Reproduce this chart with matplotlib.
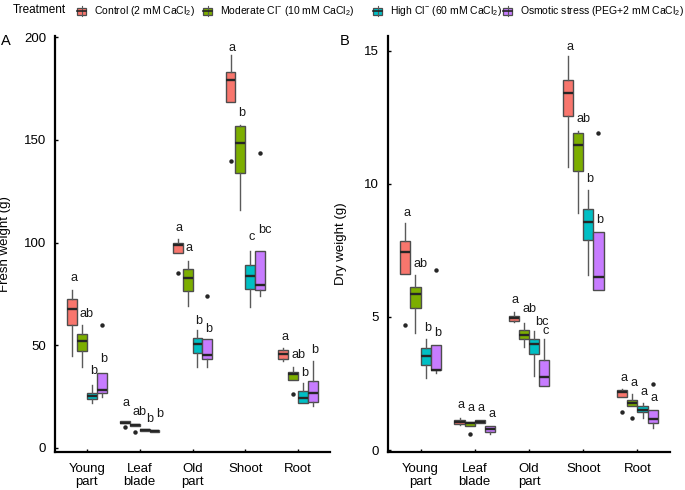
# fresh & dry weight boxplots by tissue and treatment
import matplotlib
matplotlib.use('Agg')
import matplotlib.pyplot as plt
from matplotlib.patches import Rectangle
from matplotlib.lines import Line2D

plt.rcParams['font.family'] = ['Liberation Sans', 'DejaVu Sans']
plt.rcParams['mathtext.fontset'] = 'custom'
plt.rcParams['mathtext.rm'] = 'Liberation Sans'
plt.rcParams['mathtext.it'] = 'Liberation Sans:italic'
plt.rcParams['mathtext.bf'] = 'Liberation Sans:bold'

##########################
tissues = ['Young\npart', 'Leaf\nblade', 'Old\npart', 'Shoot', 'Root']
treatments = [r'Control (2 mM CaCl$_2$)', r'Moderate Cl$^{-}$ (10 mM CaCl$_2$)',
              r'High Cl$^{-}$ (60 mM CaCl$_2$)', r'Osmotic stress (PEG+2 mM CaCl$_2$)']
colors = ['#F8766D', '#7CAE00', '#00BFC4', '#C77CFF']

# panel A - fresh weight (g); rows = tissue, cols = treatment
fw_lo = [[44.7, 39.5, 21.8, 24.7], [12.1, 10.5, 8.5, 7.9], [94.7, 68.9, 39.2, 39.2],
         [168.5, 115.8, 68.5, 74.2], [42.4, 33.1, 21.8, 20.6]]
fw_q1 = [[60.0, 47.1, 23.7, 26.9], [12.1, 10.5, 8.5, 7.9], [94.7, 76.3, 46.0, 43.1],
         [168.5, 134.0, 77.4, 76.9], [43.1, 33.1, 21.8, 22.6]]
fw_med = [[67.7, 51.9, 25.3, 28.2], [12.4, 11.3, 8.9, 8.4], [98.8, 82.6, 50.5, 45.2],
          [179.1, 148.3, 83.5, 79.5], [45.6, 35.8, 24.2, 26.6]]
fw_q3 = [[72.6, 55.6, 26.9, 36.3], [12.9, 11.9, 9.2, 8.9], [100.0, 87.1, 53.7, 52.9],
         [182.8, 156.8, 89.0, 96.0], [47.9, 36.8, 27.7, 32.6]]
fw_hi = [[77.0, 59.7, 30.6, 36.3], [12.9, 11.9, 9.2, 8.9], [101.5, 90.8, 57.3, 52.9],
         [191.2, 157.0, 96.0, 96.0], [48.7, 39.2, 31.8, 42.4]]
fw_out = [(0, 3, 59.7), (1, 0, 10.0), (1, 1, 7.6), (2, 0, 85.3), (2, 3, 74.2),
          (3, 0, 139.8), (3, 3, 143.7), (4, 1, 26.3)]
fw_let = [['a', 'ab', 'b', 'b'], ['a', 'ab', 'b', 'b'], ['a', 'a', 'b', 'b'],
          ['a', 'b', 'c', 'bc'], ['a', 'ab', 'b', 'b']]
fw_let_y = [[82.7, 65.3, 37.6, 43.5], [21.8, 17.3, 14.0, 16.5], [106.9, 97.2, 61.6, 58.1],
            [194.5, 163.2, 102.8, 106.1], [54.0, 45.2, 36.6, 47.6]]

# panel B - dry weight (g)
dw_lo = [[6.63, 4.39, 2.71, 2.90], [0.93, 0.92, 1.01, 0.62], [4.81, 3.89, 2.80, 2.40],
         [10.63, 8.90, 6.59, 6.03], [1.99, 1.65, 1.22, 0.81]]
dw_q1 = [[6.63, 5.35, 3.21, 2.99], [0.98, 0.92, 1.01, 0.68], [4.85, 4.19, 3.61, 2.40],
         [12.55, 10.48, 7.88, 6.03], [1.99, 1.65, 1.43, 1.02]]
dw_med = [[7.43, 5.85, 3.54, 3.01], [1.07, 1.01, 1.06, 0.80], [4.95, 4.33, 4.00, 2.76],
          [13.41, 11.46, 8.56, 6.49], [2.18, 1.78, 1.52, 1.16]]
dw_q3 = [[7.84, 6.13, 3.82, 3.94], [1.14, 1.06, 1.11, 0.92], [5.02, 4.50, 4.19, 3.38],
         [13.90, 11.93, 9.06, 8.18], [2.24, 1.89, 1.65, 1.52]]
dw_hi = [[8.53, 6.59, 4.19, 3.94], [1.21, 1.06, 1.11, 0.92], [5.19, 4.78, 4.48, 4.17],
         [14.81, 12.00, 9.78, 8.18], [2.28, 2.09, 1.78, 1.52]]
dw_out = [(0, 0, 4.69), (0, 3, 6.78), (1, 1, 0.62), (3, 3, 11.9),
          (4, 0, 1.41), (4, 1, 1.22), (4, 3, 2.49)]
dw_let = [['a', 'ab', 'b', 'b'], ['a', 'a', 'a', 'a'], ['a', 'ab', 'bc', 'c'],
          ['a', 'ab', 'b', 'b'], ['a', 'a', 'a', 'a']]
dw_let_y = [[8.9, 6.99, 4.6, 4.39], [1.70, 1.59, 1.59, 1.34], [5.62, 5.29, 4.80, 4.48],
            [15.15, 12.44, 10.19, 8.63], [2.71, 2.51, 2.18, 1.97]]
#######################

W, H = 685, 490
dodge = 0.1875
offs = [-1.5 * dodge, -0.5 * dodge, 0.5 * dodge, 1.5 * dodge]
# small extra x shifts for a few crowded letters (panel, tissue, treatment)
let_nudge = {('A', 1, 2): 0.07, ('A', 1, 3): 0.07, ('B', 2, 2): 0.06}

fig = plt.figure(figsize=(W / 100, H / 100), dpi=100)
axA = fig.add_axes([55 / W, 1 - 452 / H, 275 / W, 416 / H])
axB = fig.add_axes([388 / W, 1 - 452 / H, 282 / W, 416 / H])


def draw_panel(ax, name, lo, q1, med, q3, hi, outs, lets, lets_y):
    for j in range(4):
        stats = []
        pos = []
        for i in range(len(tissues)):
            fl = [v for (ti, tj, v) in outs if ti == i and tj == j]
            stats.append(dict(med=med[i][j], q1=q1[i][j], q3=q3[i][j],
                              whislo=lo[i][j], whishi=hi[i][j], fliers=fl))
            pos.append(i + 1 + offs[j])
        ax.bxp(stats, positions=pos, widths=dodge, patch_artist=True, showcaps=False,
               boxprops=dict(facecolor=colors[j], edgecolor='#4d4d4d', linewidth=1.0),
               medianprops=dict(color='#262626', linewidth=1.7),
               whiskerprops=dict(color='#5a5a5a', linewidth=1.0),
               flierprops=dict(marker='o', markersize=3.2, markerfacecolor='#262626',
                               markeredgecolor='none'))
        for i in range(len(tissues)):
            dx = let_nudge.get((name, i, j), 0.0)
            ax.text(i + 1 + offs[j] - 0.035 + dx, lets_y[i][j], lets[i][j], ha='left',
                    va='center', fontsize=9.2, color='#1a1a1a')
    ax.set_xlim(0.4, 5.6)
    ax.set_xticks(range(1, 6))
    ax.set_xticklabels(tissues, fontsize=9.5, linespacing=1.1)
    for s in ['top', 'right']:
        ax.spines[s].set_visible(False)
    for s in ['left', 'bottom']:
        ax.spines[s].set_linewidth(1.6)
    ax.tick_params(axis='both', direction='in', length=2.5, width=1, labelsize=9.5,
                   colors='black')
    ax.tick_params(axis='y', pad=6.5)
    ax.tick_params(axis='x', pad=8)


draw_panel(axA, 'A', fw_lo, fw_q1, fw_med, fw_q3, fw_hi, fw_out, fw_let, fw_let_y)
axA.set_ylim(-1.95, 200.5)
axA.set_yticks([0, 50, 100, 150, 200])
axA.set_ylabel('Fresh weight (g)', fontsize=9.5)
axA.yaxis.set_label_coords(-0.16, 0.5)

draw_panel(axB, 'B', dw_lo, dw_q1, dw_med, dw_q3, dw_hi, dw_out, dw_let, dw_let_y)
axB.set_ylim(-0.075, 15.56)
axB.set_yticks([0, 5, 10, 15])
axB.set_ylabel('Dry weight (g)', fontsize=9.5)
axB.yaxis.set_label_coords(-0.145, 0.5)

fig.text(6 / W, 1 - 41 / H, 'A', fontsize=10.5, ha='center', va='center')
fig.text(345 / W, 1 - 41 / H, 'B', fontsize=10.5, ha='center', va='center')

# legend on top
fig.text(13 / W, 1 - 10 / H, 'Treatment', fontsize=8.5, ha='left', va='center')
key_x = [77, 203, 373, 503]
for j in range(4):
    x0 = key_x[j]
    fig.add_artist(Line2D([(x0 + 4.5) / W] * 2, [1 - 6.5 / H, 1 - 16.5 / H],
                          transform=fig.transFigure, color='#5a5a5a', lw=0.8))
    fig.add_artist(Rectangle((x0 / W, 1 - 15 / H), 9 / W, 7 / H, transform=fig.transFigure,
                             facecolor=colors[j], edgecolor='#4d4d4d', lw=0.9))
    fig.add_artist(Line2D([x0 / W, (x0 + 9) / W], [1 - 11.5 / H] * 2,
                          transform=fig.transFigure, color='#262626', lw=1.2))
    fig.text((x0 + 17) / W, 1 - 11.5 / H, treatments[j], fontsize=7.5, ha='left', va='center')

plt.savefig('out.png', dpi=100)
